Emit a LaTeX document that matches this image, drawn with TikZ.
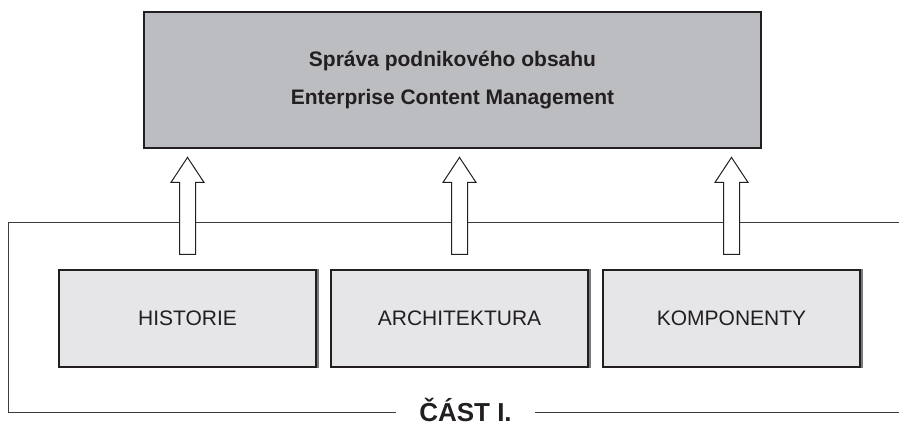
\documentclass[tikz,border=0pt]{standalone}
\usepackage{fontspec}
\setmainfont{Liberation Sans}
\usetikzlibrary{calc}
\definecolor{ink}{HTML}{231F20}
\definecolor{topfill}{HTML}{BCBDC1}
\definecolor{boxfill}{HTML}{E6E6E8}
\definecolor{framec}{HTML}{3C3C3C}
\definecolor{shadowc}{HTML}{7A7A7A}
\begin{document}
\begin{tikzpicture}[x=1pt,y=1pt,
  topbox/.style={draw=ink, line width=2.4pt, fill=topfill, minimum width=617pt, minimum height=136pt,
    align=center, inner sep=0pt, font={\fontsize{21}{38}\selectfont\bfseries}, text=ink},
  partbox/.style={draw=ink, line width=1.2pt, fill=boxfill, minimum width=257pt, minimum height=97pt,
    inner sep=0pt, font={\fontsize{21}{25}\selectfont}, text=ink},
  frameline/.style={draw=framec, line width=1pt},
  fatarrow/.style={draw=ink, line width=1pt, fill=white, line join=miter},
  boxshadow/.style={draw=shadowc, line width=2pt},
  partlabel/.style={anchor=base, inner sep=0pt, font={\fontsize{26}{30}\selectfont\bfseries}, text=ink}]
\useasboundingbox (0,0) rectangle (899,425);
% frame
\coordinate (fl) at (8,12);
\coordinate (ft) at (8,202);
\node[partlabel] (cast) at (465.5,3.5) {ČÁST I.};
\draw[frameline] (899,202) -- (ft) -- (fl) -- ($(fl -| cast.west)+(-23,0)$);
\draw[frameline] ($(fl -| cast.east)+(23,0)$) -- (899,12);
% top box
\node[topbox] (ecm) at (452.5,345) {Správa podnikového obsahu\\Enterprise Content Management};
% bottom boxes
\node[partbox] (h) at (187.5,106.5) {HISTORIE};
\node[partbox] (a) at (459.5,106.5) {ARCHITEKTURA};
\node[partbox] (k) at (731.5,106.5) {KOMPONENTY};
\foreach \n in {h,a,k}{
  \draw[boxshadow] ($(\n.north east)+(1.6,0)$) -- ($(\n.south east)+(1.6,-0.6)$);
  \draw[fatarrow] ($(\n.north)+(-8,15)$) -- ++(0,72) -- ++(-8.5,0) -- ($(\n.north)+(0,112)$)
    -- ($(\n.north)+(16.5,87)$) -- ++(-8.5,0) -- ++(0,-72) -- cycle;
}
\end{tikzpicture}
\end{document}
